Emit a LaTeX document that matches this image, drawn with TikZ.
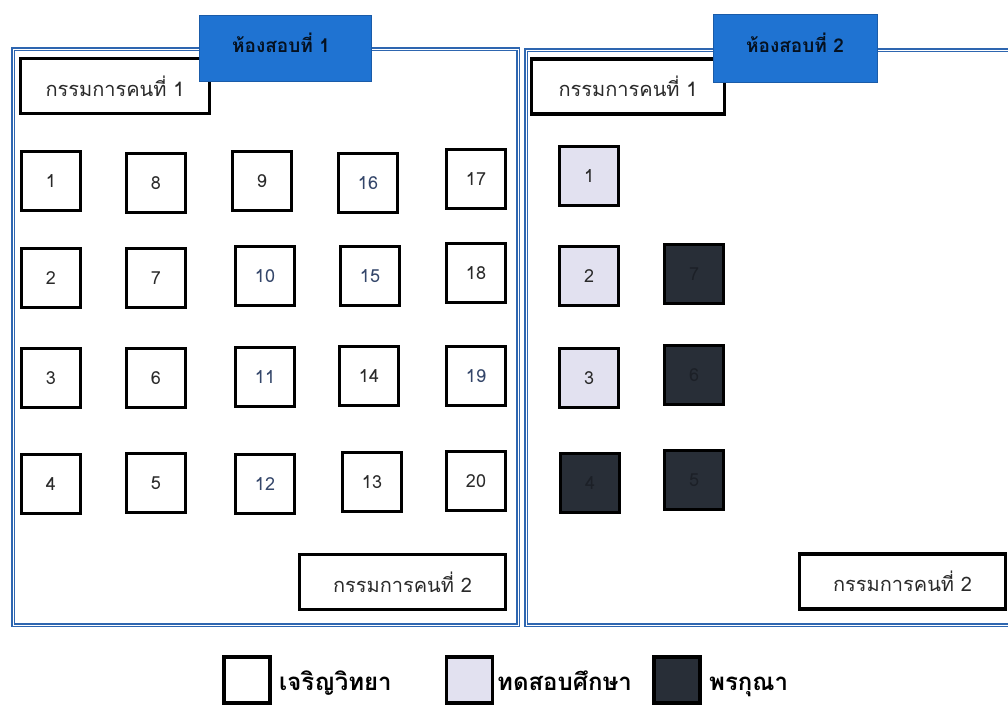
\documentclass[tikz,border=0pt]{standalone}
\usepackage{fontspec}
\newfontfamily\thaifont[Script=Thai]{Loma}
\definecolor{roomblue}{HTML}{2E66B0}
\definecolor{headfill}{HTML}{1F73D2}
\definecolor{headdraw}{HTML}{1A5BA8}
\definecolor{lightseat}{HTML}{E2E1F0}
\definecolor{darkseat}{HTML}{282E37}
\definecolor{darknum}{HTML}{1C2027}
\definecolor{numgray}{HTML}{2A2A2A}
\definecolor{numnavy}{HTML}{34466A}
\tikzset{
  roomframe/.style={draw=roomblue, double=white, double distance=0.9pt, line width=1.2pt},
  seat/.style={draw=black, line width=3.2pt, fill=white, minimum width=59pt, minimum height=59pt, inner sep=0pt, font=\thaifont\fontsize{18}{18}\selectfont, text=numgray},
  navy/.style={text=numnavy},
  lseat/.style={seat, fill=lightseat},
  dseat/.style={seat, fill=darkseat, text=darknum},
  judge/.style={draw=black, line width=3.2pt, fill=white, inner sep=0pt, minimum height=55pt, font=\thaifont\fontsize{20}{20}\selectfont, text=numgray},
  header/.style={draw=headdraw, line width=1.2pt, fill=headfill, inner sep=0pt},
  headtext/.style={inner sep=0pt, font=\thaifont\bfseries\fontsize{19}{19}\selectfont, text=black!85!headfill},
  legbox/.style={draw=black, line width=3.2pt, minimum width=46pt, minimum height=46pt, inner sep=0pt},
  legtext/.style={anchor=base west, inner sep=0pt, font=\thaifont\bfseries\fontsize{24}{24}\selectfont, text=black}
}
\begin{document}
\begin{tikzpicture}[x=1pt,y=-1pt]
\useasboundingbox (0,0) rectangle (1008,704);
\clip (0,0) rectangle (1008,704);
% room frames
\draw[roomframe] (13,49) rectangle (518,625);
\draw[roomframe] (526,50) rectangle (1030,625);
% committee boxes
\node[judge, minimum width=189pt] (j11) at (115,86) {กรรมการคนที่ 1};
\node[judge, minimum width=193pt] (j21) at (628,86.5) {กรรมการคนที่ 1};
\node[judge, minimum width=206pt] (j12) at (402.5,582) {กรรมการคนที่ 2};
\node[judge, minimum width=206pt] (j22) at (902.5,581.5) {กรรมการคนที่ 2};
% headers
\node[header, minimum width=172pt, minimum height=66pt] (h1) at (285.5,48.5) {};
\node[headtext] (h1t) at (281,43) {ห้องสอบที่ 1};
\node[header, minimum width=164pt, minimum height=68pt] (h2) at (795.5,48.5) {};
\node[headtext] (h2t) at (795,43) {ห้องสอบที่ 2};
% room 1 seats
\node[seat] (a1) at (51,181) {1};
\node[seat] (a2) at (51,278) {2};
\node[seat] (a3) at (51,378) {3};
\node[seat] (a4) at (51,484) {4};
\node[seat] (a8) at (156,183) {8};
\node[seat] (a7) at (156,278) {7};
\node[seat] (a6) at (156,378) {6};
\node[seat] (a5) at (156,483) {5};
\node[seat] (a9) at (262,181) {9};
\node[seat,navy] (a10) at (265,276) {10};
\node[seat,navy] (a11) at (265,377) {11};
\node[seat,navy] (a12) at (265,484) {12};
\node[seat,navy] (a16) at (368,183) {16};
\node[seat,navy] (a15) at (370,276) {15};
\node[seat] (a14) at (369,376) {14};
\node[seat] (a13) at (372,482) {13};
\node[seat] (a17) at (476,179) {17};
\node[seat] (a18) at (476,273) {18};
\node[seat,navy] (a19) at (476,376) {19};
\node[seat] (a20) at (476,481) {20};
% room 2 seats
\node[lseat] (b1) at (589,176) {1};
\node[lseat] (b2) at (589,276) {2};
\node[lseat] (b3) at (589,378) {3};
\node[dseat] (b4) at (590,483) {4};
\node[dseat] (b7) at (694,274) {7};
\node[dseat] (b6) at (694,375) {6};
\node[dseat] (b5) at (694,480) {5};
% legend
\node[legbox, fill=white] (l1) at (247,680) {};
\node[legtext] (t1) at (279,690) {เจริญวิทยา};
\node[legbox, fill=lightseat] (l2) at (469.5,680) {};
\node[legtext] (t2) at (497,690) {ทดสอบศึกษา};
\node[legbox, fill=darkseat] (l3) at (677,680) {};
\node[legtext] (t3) at (709,690) {พรกุณา};
\end{tikzpicture}
\end{document}
